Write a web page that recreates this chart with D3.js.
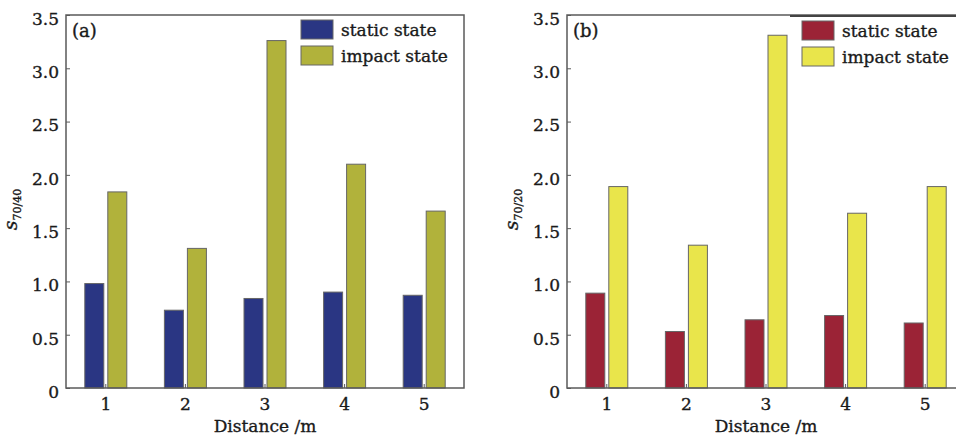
<!DOCTYPE html>
<html>
<head>
<meta charset="utf-8">
<script src="https://cdn.jsdelivr.net/npm/d3@7"></script>
<style>
  html, body { margin: 0; padding: 0; background: #fff; }
  svg { display: block; }
  text { font-family: "DejaVu Serif", "Liberation Serif", serif; fill: #1a1a1a; stroke: #1a1a1a; stroke-width: 0.35px; }
</style>
</head>
<body>
<svg id="chart" width="956" height="441"></svg>
<script>
// Distances along the rod (m)
const distances = ["1", "2", "3", "4", "5"];
const seriesNames = ["static state", "impact state"];
const yTicks = [0, 0.5, 1.0, 1.5, 2.0, 2.5, 3.0, 3.5];

// Panel (a): s70/40
const staticA = [0.98, 0.73, 0.84, 0.90, 0.87];
const impactA = [1.84, 1.31, 3.26, 2.10, 1.66];

// Panel (b): s70/20
const staticB = [0.89, 0.53, 0.64, 0.68, 0.61];
const impactB = [1.89, 1.34, 3.31, 1.64, 1.89];

const svg = d3.select("#chart");
const frameColor = "#5a5a5a";
const barStroke = "#666";

function drawPanel(opts) {
  const { left, tag, sub, staticVals, impactVals, colors, legendTopLine } = opts;
  const top = 15, bottom = 388, width = 398;

  const x = d3.scaleBand().domain(distances).range([left, left + width]).padding(0);
  const xs = d3.scaleBand().domain(seriesNames).range([-21, 21]).paddingInner(0.174);
  const y = d3.scaleLinear().domain([0, 3.5]).range([bottom, top]);

  const g = svg.append("g");

  // bars
  const rows = distances.map((d, i) => ({ d, vals: [staticVals[i], impactVals[i]] }));
  const grp = g.selectAll("g.grp").data(rows).join("g")
    .attr("transform", r => `translate(${x(r.d) + x.bandwidth() / 2},0)`);
  grp.selectAll("rect").data(r => r.vals.map((v, k) => ({ v, k }))).join("rect")
    .attr("x", o => xs(seriesNames[o.k]))
    .attr("width", xs.bandwidth())
    .attr("y", o => y(o.v))
    .attr("height", o => y(0) - y(o.v))
    .attr("fill", o => colors[o.k])
    .attr("stroke", barStroke)
    .attr("stroke-width", 1);

  // axes with inward ticks
  const fmt = v => v === 0 ? "0" : d3.format(".1f")(v);
  const ax = g.append("g").attr("transform", `translate(${left},0)`)
    .call(d3.axisLeft(y).tickValues(yTicks).tickFormat(fmt).tickSize(-4).tickSizeOuter(0).tickPadding(7));
  ax.select(".domain").remove();
  ax.selectAll("line").attr("stroke", frameColor);
  ax.selectAll("text").attr("font-size", 17).attr("dy", "0.55em")
    .style("font-family", "DejaVu Serif").attr("fill", "#1a1a1a");

  const bx = g.append("g").attr("transform", `translate(0,${bottom})`)
    .call(d3.axisBottom(x).tickSize(-4).tickSizeOuter(0).tickPadding(10));
  bx.select(".domain").remove();
  bx.selectAll("line").attr("stroke", frameColor);
  bx.selectAll("text").attr("font-size", 17)
    .style("font-family", "DejaVu Serif").attr("fill", "#1a1a1a");

  // frame
  g.append("rect")
    .attr("x", left).attr("y", top)
    .attr("width", width).attr("height", bottom - top)
    .attr("fill", "none").attr("stroke", frameColor).attr("stroke-width", 1.5);

  if (legendTopLine) {
    g.append("line")
      .attr("x1", left + 223).attr("x2", left + width)
      .attr("y1", top + 1).attr("y2", top + 1)
      .attr("stroke", "#444").attr("stroke-width", 1.8);
  }

  // panel tag
  g.append("text").attr("x", left + 6).attr("y", 37)
    .attr("font-size", 18).text(tag);

  // legend
  const lg = g.append("g").attr("transform", `translate(${left + 235},${opts.legendY})`);
  seriesNames.forEach((name, k) => {
    lg.append("rect").attr("x", 0).attr("y", k * 26)
      .attr("width", 32).attr("height", 19)
      .attr("fill", colors[k]).attr("stroke", barStroke).attr("stroke-width", 1);
    lg.append("text").attr("x", 40).attr("y", k * 26 + 15.5)
      .attr("font-size", 17).text(name);
  });

  // x title
  g.append("text").attr("x", left + width / 2).attr("y", 432)
    .attr("text-anchor", "middle").attr("font-size", 17).text("Distance /m");

  // y title: s with subscript
  const yt = g.append("text")
    .attr("transform", `translate(${left - 49},${(top + bottom) / 2 + 8}) rotate(-90)`)
    .attr("text-anchor", "middle");
  yt.append("tspan").attr("font-size", 19).attr("font-style", "italic").text("s");
  yt.append("tspan").attr("font-size", 11).attr("dy", 4).text(sub);
}

drawPanel({
  left: 66, tag: "(a)", sub: "70/40",
  staticVals: staticA, impactVals: impactA,
  colors: ["#2a3683", "#b1b23b"], legendY: 20, legendTopLine: false
});

drawPanel({
  left: 567, tag: "(b)", sub: "70/20",
  staticVals: staticB, impactVals: impactB,
  colors: ["#9b2336", "#e9e54b"], legendY: 21, legendTopLine: true
});
</script>
</body>
</html>
